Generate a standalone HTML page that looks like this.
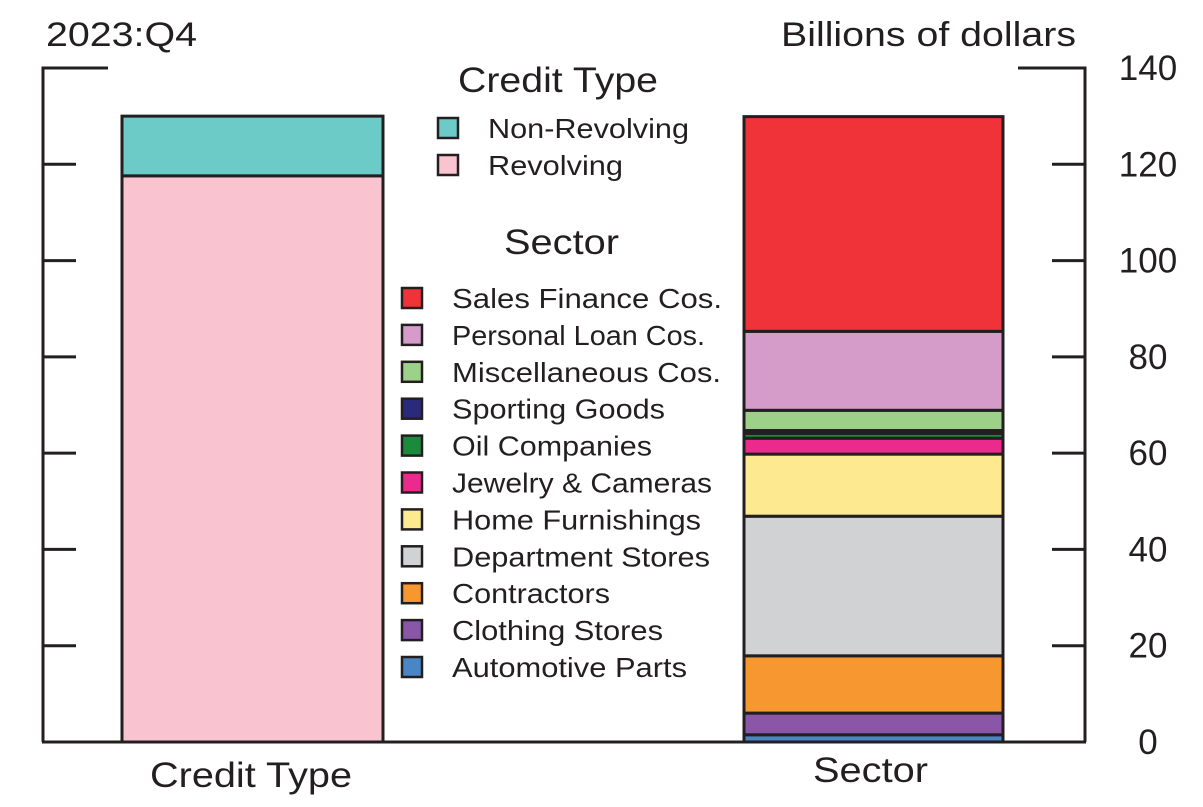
<!DOCTYPE html>
<html><head><meta charset="utf-8"><style>
html,body{margin:0;padding:0;background:#fff;}
svg{display:block;font-family:"Liberation Sans",Arial,sans-serif;}
</style></head><body>
<svg id="chart" width="1203" height="807" viewBox="0 0 1203 807">
<text x="46" y="46" font-size="34" fill="#231f20" textLength="151" lengthAdjust="spacingAndGlyphs">2023:Q4</text>
<text x="781" y="46" font-size="34" fill="#231f20" textLength="295" lengthAdjust="spacingAndGlyphs">Billions of dollars</text>
<g id="axes"></g>
<g id="bars"></g>
<g id="legend"></g>
<text x="150" y="787" font-size="35" fill="#231f20" textLength="202" lengthAdjust="spacingAndGlyphs">Credit Type</text>
<text x="813" y="782" font-size="35" fill="#231f20" textLength="115" lengthAdjust="spacingAndGlyphs">Sector</text>
</svg>
<script>
const yTicks=[0,20,40,60,80,100,120,140];
const creditNames=["Revolving","Non-Revolving"];
const creditValues=[117.6,12.4];
const creditColors=["#f9c4d0","#6ccbc6"];
const sectorNames=["Automotive Parts","Clothing Stores","Contractors","Department Stores","Home Furnishings","Jewelry & Cameras","Oil Companies","Sporting Goods","Miscellaneous  Cos.","Personal Loan Cos.","Sales Finance Cos."];
const sectorValues=[1.5,4.5,11.9,29.0,12.9,3.3,1.0,0.6,4.2,16.4,44.6];
const sectorColors=["#4a86c6","#8a56a8","#f7972f","#d1d2d4","#fde98f","#ec2a8d","#1b8a3c","#2b2a7a","#9dd18a","#d59bc9","#ef3338"];
const legendWidths=[235,211,158,258,249,260,200,213,269,253,270];

const NS="http://www.w3.org/2000/svg";
const y0=742, pxPer=674/140;
function yS(v){return y0-v*pxPer;}
function mk(tag,attrs,parent){const e=document.createElementNS(NS,tag);for(const k in attrs)e.setAttribute(k,attrs[k]);parent.appendChild(e);return e;}
const axes=document.getElementById('axes'),bars=document.getElementById('bars'),leg=document.getElementById('legend');
const st={stroke:"#231f20","stroke-width":3,fill:"none"};
let l=mk('path',Object.assign({d:`M108 ${yS(140)} H43 V${y0}`},st),axes);


l=mk('path',Object.assign({d:`M1018 ${yS(140)} H1085 V${y0}`},st),axes);


l=mk('line',Object.assign({x1:42,x2:1086,y1:y0,y2:y0},st),axes);


yTicks.forEach(t=>{
  if(t>0&&t<140){
    let a=mk('line',Object.assign({x1:43,x2:76,y1:yS(t),y2:yS(t)},st),axes);
    
    
    let b=mk('line',Object.assign({x1:1052,x2:1085,y1:yS(t),y2:yS(t)},st),axes);
    
    
  }
  let tx=mk('text',{x:1148,y:yS(t)+12,"font-size":35,fill:"#231f20","text-anchor":"middle"},axes);
  tx.textContent=t;
  
  
});
function stack(vals,cols,names,x,w,prefix){
  let c=0;
  vals.forEach((v,i)=>{
    const r=mk('rect',{x:x,y:yS(c+v),width:w,height:v*pxPer,fill:cols[i],stroke:"#231f20","stroke-width":3},bars);
    
    
    c+=v;
  });
}
stack(creditValues,creditColors,creditNames,122,261,'bar');
stack(sectorValues,sectorColors,sectorNames,744,259,'bar');
function title(t,x,y,w){const e=mk('text',{x:x,y:y,"font-size":35,fill:"#231f20",textLength:w,lengthAdjust:"spacingAndGlyphs"},leg);e.textContent=t;

}
function entry(name,col,x,y,tw){
  const g=mk('g',{},leg);
  
  
  mk('rect',{x:x,y:y-10,width:20,height:20,fill:col,stroke:"#231f20","stroke-width":2.5},g);
  const t=mk('text',{x:x+50,y:y+10,"font-size":28,fill:"#231f20",textLength:tw,lengthAdjust:"spacingAndGlyphs"},g);t.textContent=name;
}
title("Credit Type",458,92,200);
entry("Non-Revolving",creditColors[1],438,128,201);
entry("Revolving",creditColors[0],438,165,135);
title("Sector",504,254,115);
for(let i=sectorNames.length-1,k=0;i>=0;i--,k++){
  entry(sectorNames[i],sectorColors[i],402,298+k*36.9,legendWidths[i]);
}
</script>
</body></html>
